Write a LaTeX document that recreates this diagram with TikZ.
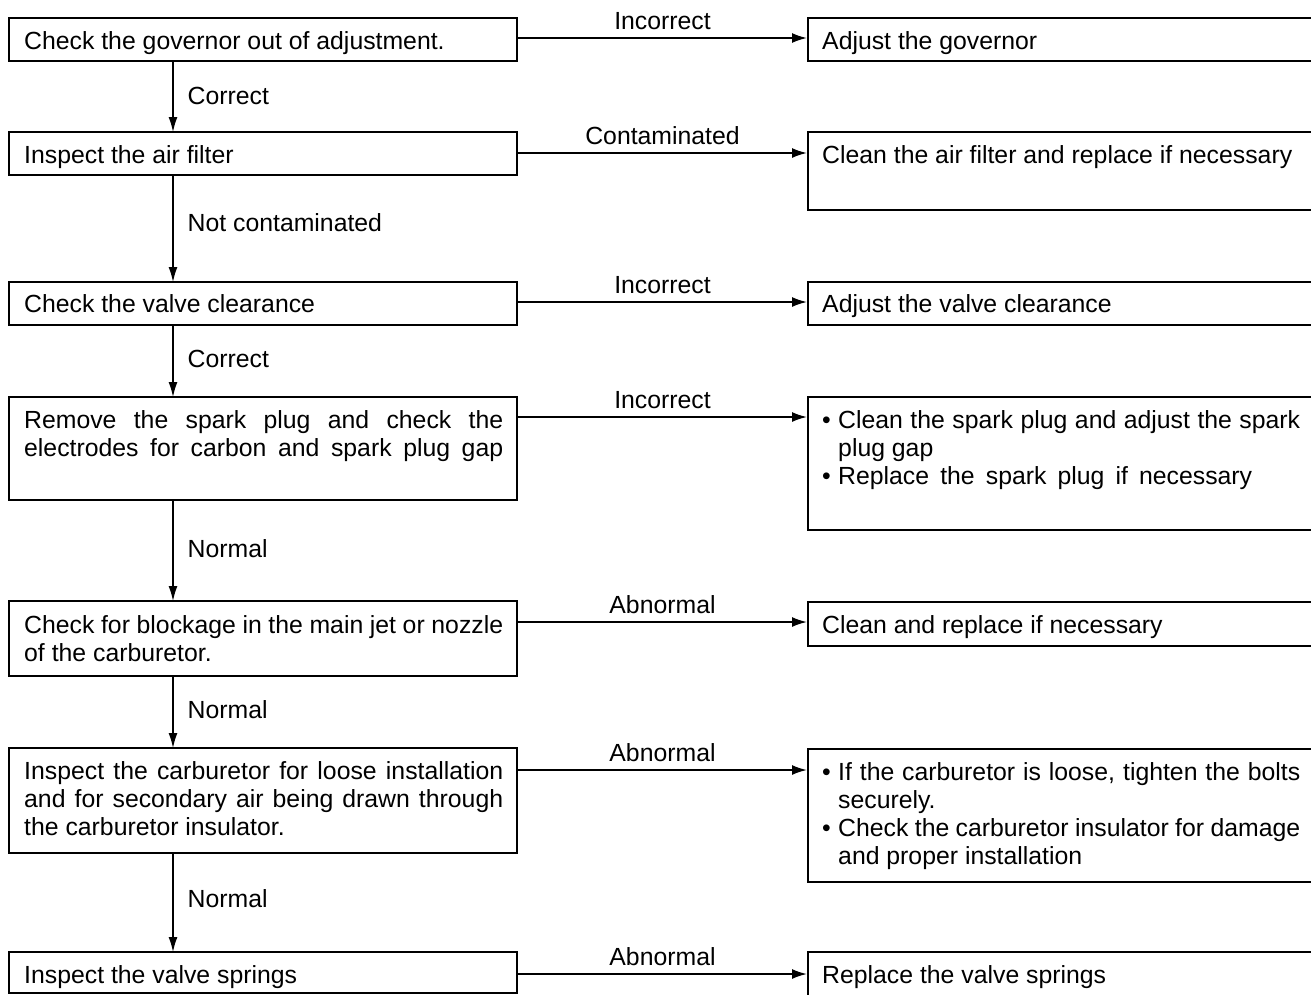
\documentclass[tikz,border=0pt]{standalone}
\usepackage{fontspec}
\setmainfont{Liberation Sans}
\usetikzlibrary{arrows.meta}
\begin{document}
\begin{tikzpicture}[x=1pt,y=-1pt,
  box/.style={draw, line width=1.8pt, rectangle, inner sep=0pt, outer sep=0pt, anchor=north west},
  lbox/.style={box, minimum width=508pt},
  rbox/.style={box, minimum width=530pt},
  txt/.style={anchor=base west, inner sep=0pt, font=\fontsize{24.8}{28}\selectfont},
  lbl/.style={inner sep=0pt, font=\fontsize{24.8}{28}\selectfont},
  flow/.style={line width=1.8pt, -{Latex[length=15pt,width=10pt]}, shorten >=1pt},
  vflow/.style={line width=1.4pt, -{Latex[length=15pt,width=9pt]}},
]
\clip (0,0) rectangle (1311,994);
% boxes
\node[lbox, minimum height=43pt]  (L1) at (9,18) {};
\node[rbox, minimum height=43pt]  (R1) at (808,18) {};
\node[lbox, minimum height=43pt]  (L2) at (9,132) {};
\node[rbox, minimum height=78pt]  (R2) at (808,132) {};
\node[lbox, minimum height=43pt]  (L3) at (9,282) {};
\node[rbox, minimum height=43pt]  (R3) at (808,282) {};
\node[lbox, minimum height=103pt] (L4) at (9,397) {};
\node[rbox, minimum height=133pt] (R4) at (808,397) {};
\node[lbox, minimum height=75pt]  (L5) at (9,601) {};
\node[rbox, minimum height=44pt]  (R5) at (808,602) {};
\node[lbox, minimum height=105pt] (L6) at (9,748) {};
\node[rbox, minimum height=133pt] (R6) at (808,749) {};
\node[lbox, minimum height=41pt]  (L7) at (9,952) {};
\node[rbox, minimum height=60pt]  (R7) at (808,952) {};
% texts
\node[txt] (L1t) at ([xshift=15pt,yshift=-31pt]L1.north west) {Check the governor out of adjustment.};
\node[txt] (R1t) at ([xshift=14pt,yshift=-31pt]R1.north west) {Adjust the governor};
\node[txt] (L2t) at ([xshift=15pt,yshift=-31pt]L2.north west) {Inspect the air filter};
\node[txt] (R2t) at ([xshift=14pt,yshift=-31pt]R2.north west) {Clean the air filter and replace if necessary};
\node[txt] (L3t) at ([xshift=15pt,yshift=-30pt]L3.north west) {Check the valve clearance};
\node[txt] (R3t) at ([xshift=14pt,yshift=-30pt]R3.north west) {Adjust the valve clearance};
\node[txt] (L4t) at ([xshift=15pt,yshift=-31pt]L4.north west)
  {\parbox[t]{490pt}{\makebox[479pt][s]{Remove the spark plug and check the}\\
   \makebox[479pt][s]{electrodes for carbon and spark plug gap}}};
\node[txt] (R4t) at ([xshift=14pt,yshift=-31pt]R4.north west)
  {\parbox[t]{500pt}{\makebox[16pt][l]{•}\makebox[462pt][s]{Clean the spark plug and adjust the spark}\\
   \hspace*{16pt}plug gap\\
   \makebox[16pt][l]{•}\makebox[414pt][s]{Replace the spark plug if necessary}}};
\node[txt] (L5t) at ([xshift=15pt,yshift=-32pt]L5.north west)
  {\parbox[t]{490pt}{\makebox[479pt][s]{Check for blockage in the main jet or nozzle}\\
   of the carburetor.}};
\node[txt] (R5t) at ([xshift=14pt,yshift=-31pt]R5.north west) {Clean and replace if necessary};
\node[txt] (L6t) at ([xshift=15pt,yshift=-31pt]L6.north west)
  {\parbox[t]{490pt}{\makebox[479pt][s]{Inspect the carburetor for loose installation}\\
   \makebox[479pt][s]{and for secondary air being drawn through}\\
   the carburetor insulator.}};
\node[txt] (R6t) at ([xshift=14pt,yshift=-31pt]R6.north west)
  {\parbox[t]{500pt}{\makebox[16pt][l]{•}\makebox[462pt][s]{If the carburetor is loose, tighten the bolts}\\
   \hspace*{16pt}securely.\\
   \makebox[16pt][l]{•}\makebox[462pt][s]{Check the carburetor insulator for damage}\\
   \hspace*{16pt}and proper installation}};
\node[txt] (L7t) at ([xshift=15pt,yshift=-31pt]L7.north west) {Inspect the valve springs};
\node[txt] (R7t) at ([xshift=14pt,yshift=-31pt]R7.north west) {Replace the valve springs};
% horizontal connectors
\coordinate (a1) at ([yshift=-20pt]L1.north east);
\coordinate (a2) at ([yshift=-21pt]L2.north east);
\coordinate (a3) at ([yshift=-20pt]L3.north east);
\coordinate (a4) at ([yshift=-20pt]L4.north east);
\coordinate (a5) at ([yshift=-21pt]L5.north east);
\coordinate (a6) at ([yshift=-22pt]L6.north east);
\coordinate (a7) at ([yshift=-22pt]L7.north east);
\draw[flow] (a1) -- (R1.west |- a1) node[lbl, midway, anchor=base, yshift=9pt] {Incorrect};
\draw[flow] (a2) -- (R2.west |- a2) node[lbl, midway, anchor=base, yshift=9pt] {Contaminated};
\draw[flow] (a3) -- (R3.west |- a3) node[lbl, midway, anchor=base, yshift=9pt] {Incorrect};
\draw[flow] (a4) -- (R4.west |- a4) node[lbl, midway, anchor=base, yshift=9pt] {Incorrect};
\draw[flow] (a5) -- (R5.west |- a5) node[lbl, midway, anchor=base, yshift=9pt] {Abnormal};
\draw[flow] (a6) -- (R6.west |- a6) node[lbl, midway, anchor=base, yshift=9pt] {Abnormal};
\draw[flow] (a7) -- (R7.west |- a7) node[lbl, midway, anchor=base, yshift=9pt] {Abnormal};
% vertical connectors
\draw[vflow] ([xshift=164pt]L1.south west) -- ([xshift=164pt]L2.north west)
  node[lbl, midway, anchor=base west, xshift=14pt, yshift=-7.5pt] {Correct};
\draw[vflow] ([xshift=164pt]L2.south west) -- ([xshift=164pt]L3.north west)
  node[lbl, midway, anchor=base west, xshift=14pt, yshift=-2.5pt] {Not contaminated};
\draw[vflow] ([xshift=164pt]L3.south west) -- ([xshift=164pt]L4.north west)
  node[lbl, midway, anchor=base west, xshift=14pt, yshift=-6pt] {Correct};
\draw[vflow] ([xshift=164pt]L4.south west) -- ([xshift=164pt]L5.north west)
  node[lbl, midway, anchor=base west, xshift=14pt, yshift=-6.5pt] {Normal};
\draw[vflow] ([xshift=164pt]L5.south west) -- ([xshift=164pt]L6.north west)
  node[lbl, midway, anchor=base west, xshift=14pt, yshift=-6pt] {Normal};
\draw[vflow] ([xshift=164pt]L6.south west) -- ([xshift=164pt]L7.north west)
  node[lbl, midway, anchor=base west, xshift=14pt, yshift=-4.5pt] {Normal};
\end{tikzpicture}
\end{document}
